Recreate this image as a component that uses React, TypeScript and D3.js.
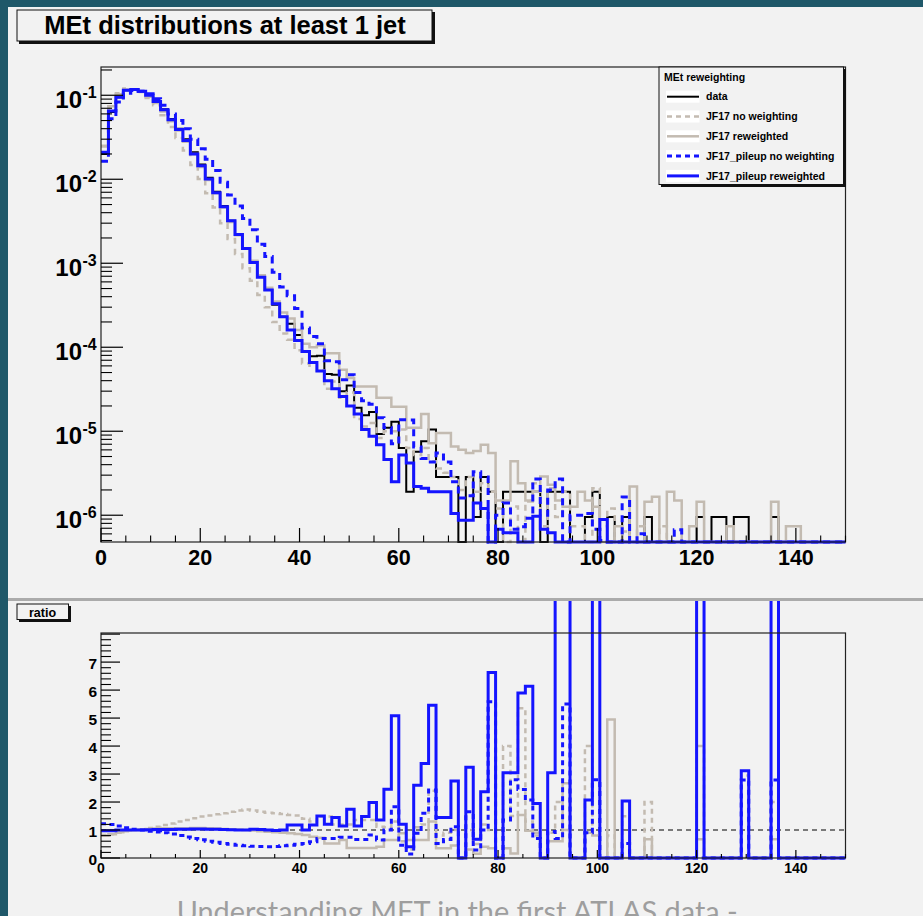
import React from 'react';
import * as d3 from 'd3';

// ---------------- data (100 bins of width 1.5 GeV, 0..150) ----------------
const binWidth = 1.5;
const xTickMajor = [0, 20, 40, 60, 80, 100, 120, 140];
const ratioTickLabels = [0, 1, 2, 3, 4, 5, 6, 7];
const logDecades = [-1, -2, -3, -4, -5, -6];

const legendTitle = 'MEt reweighting';
const legendNames = ['data', 'JF17 no weighting', 'JF17 reweighted', 'JF17_pileup no weighting', 'JF17_pileup reweighted'];

const dataVals = [
  2.0e-2, 6.3e-2, 9.5e-2, 1.15e-1, 1.17e-1, 1.12e-1, 1.0e-1, 8.5e-2, 6.8e-2, 5.2e-2,
  4.0e-2, 3.0e-2, 2.1e-2, 1.5e-2, 1.04e-2, 7.1e-3, 4.8e-3, 3.2e-3, 2.2e-3, 1.5e-3,
  1.05e-3, 6.9e-4, 4.8e-4, 3.2e-4, 2.3e-4, 1.9e-4, 1.4e-4, 8.9e-5, 7.8e-5, 7.9e-5,
  4.8e-5, 4.7e-5, 3.0e-5, 3.5e-5, 1.9e-5, 1.55e-5, 1.7e-5, 9.3e-6, 1.1e-5, 1.3e-5,
  6.3e-6, 1.9e-6, 5.7e-6, 7.6e-6, 1.05e-5, 2.85e-6, 2.85e-6, 2.85e-6, 0, 2.85e-6,
  9.5e-7, 2.85e-6, 1.9e-6, 0, 1.9e-6, 1.9e-6, 1.9e-6, 1.9e-6, 1.9e-6, 0,
  1.9e-6, 1.9e-6, 1.9e-6, 0, 0, 9.5e-7, 1.9e-6, 0, 9.5e-7, 0,
  9.5e-7, 0, 0, 9.5e-7, 0, 0, 0, 0, 0, 0,
  9.5e-7, 0, 9.5e-7, 9.5e-7, 0, 9.5e-7, 9.5e-7, 0, 0, 0,
  9.5e-7, 0, 0, 0, 0, 0, 0, 0, 0, 0,
];

const jf17Vals = [
  2.45e-2, 7.4e-2, 1.06e-1, 1.2e-1, 1.17e-1, 1.09e-1, 9.3e-2, 7.6e-2, 5.8e-2, 4.2e-2,
  3.1e-2, 2.2e-2, 1.48e-2, 1.01e-2, 6.8e-3, 4.6e-3, 3.0e-3, 1.94e-3, 1.29e-3, 8.7e-4,
  6.2e-4, 4.2e-4, 3.0e-4, 2.0e-4, 1.46e-4, 1.23e-4, 9.2e-5, 6.4e-5, 6.0e-5, 5.3e-5,
  3.2e-5, 3.9e-5, 2.5e-5, 2.9e-5, 1.4e-5, 1.14e-5, 1.25e-5, 8.3e-6, 1.0e-5, 1.0e-5,
  1.05e-5, 6.3e-6, 5.2e-6, 6.3e-6, 4.4e-6, 3.6e-6, 3.2e-6, 2.85e-6, 2.0e-6, 2.85e-6,
  1.9e-6, 2.4e-6, 1.9e-6, 1.2e-6, 4.8e-7, 1.27e-6, 3.6e-7, 1.46e-6, 2.4e-6, 7.4e-7,
  2.1e-6, 9.5e-7, 1.9e-6, 7.4e-7, 7.4e-7, 2.4e-7, 2.1e-6, 7.4e-7, 1.2e-6, 0,
  6.4e-7, 0, 7.4e-7, 4.8e-7, 0, 7.4e-7, 0, 0, 0, 0,
  2.4e-7, 0, 0, 0, 0, 0, 3.2e-7, 0, 0, 0,
  4.8e-7, 0, 0, 0, 0, 0, 0, 0, 0, 0,
];

const jf17RwVals = [
  2.5e-2, 7.4e-2, 1.03e-1, 1.17e-1, 1.17e-1, 1.10e-1, 9.6e-2, 8.1e-2, 6.4e-2, 4.9e-2,
  3.8e-2, 2.8e-2, 2.0e-2, 1.4e-2, 9.8e-3, 6.8e-3, 4.6e-3, 3.1e-3, 2.15e-3, 1.5e-3,
  1.07e-3, 7.2e-4, 5.1e-4, 3.5e-4, 2.6e-4, 2.2e-4, 1.6e-4, 1.1e-4, 1.0e-4, 1.05e-4,
  8.5e-5, 8.5e-5, 5.4e-5, 4.3e-5, 3.4e-5, 3.4e-5, 3.4e-5, 2.5e-5, 2.5e-5, 1.95e-5,
  1.95e-5, 1.1e-5, 1.1e-5, 1.6e-5, 7.2e-6, 9.5e-6, 9.5e-6, 6.6e-6, 6.0e-6, 5.5e-6,
  5.8e-6, 6.9e-6, 5.5e-6, 1.5e-6, 1.5e-6, 4.4e-6, 2.4e-6, 1.5e-6, 1.9e-6, 2.9e-6,
  2.3e-6, 1.5e-6, 1.26e-6, 1.26e-6, 1.9e-6, 1.5e-6, 1.26e-6, 0, 1.9e-7, 7.4e-7,
  0, 2.2e-6, 0, 1.45e-6, 1.66e-6, 0, 1.9e-6, 1.5e-6, 0, 7.4e-7,
  1.45e-6, 0, 0, 0, 7.4e-7, 0, 0, 0, 0, 0,
  1.45e-6, 0, 7.4e-7, 7.4e-7, 0, 0, 0, 0, 0, 0,
];

const pileupVals = [
  1.64e-2, 5.25e-2, 8.3e-2, 1.06e-1, 1.14e-1, 1.12e-1, 1.04e-1, 9.1e-2, 7.6e-2, 6.0e-2,
  5.0e-2, 4.0e-2, 3.0e-2, 2.3e-2, 1.73e-2, 1.27e-2, 9.2e-3, 6.5e-3, 4.8e-3, 3.4e-3,
  2.5e-3, 1.68e-3, 1.2e-3, 7.8e-4, 5.2e-4, 4.1e-4, 2.9e-4, 1.7e-4, 1.34e-4, 1.1e-4,
  6.9e-5, 6.7e-5, 4.1e-5, 4.7e-5, 2.9e-5, 2.3e-5, 2.1e-5, 1.45e-5, 1.1e-5, 7.1e-6,
  1.37e-5, 1.36e-5, 6.5e-6, 4.75e-6, 4.3e-6, 5.5e-6, 4.3e-6, 2.5e-6, 1.6e-6, 1.7e-6,
  3.3e-6, 2.85e-6, 3.4e-7, 1.0e-6, 1.4e-6, 6.8e-7, 7.3e-7, 9.2e-7, 2.7e-6, 1.0e-6,
  2.0e-6, 2.7e-6, 3.5e-7, 1.0e-6, 1.0e-6, 1.05e-6, 6.8e-7, 5.0e-7, 0, 0,
  1.65e-6, 4.0e-7, 6.0e-7, 0, 3.0e-7, 0, 0, 6.7e-7, 0, 0,
  0, 0, 0, 0, 0, 0, 3.4e-7, 0, 0, 0,
  3.4e-7, 0, 0, 0, 0, 0, 0, 0, 0, 0,
];

const pileupRwVals = [
  2.1e-2, 6.5e-2, 9.5e-2, 1.15e-1, 1.17e-1, 1.12e-1, 1.0e-1, 8.4e-2, 6.7e-2, 5.1e-2,
  3.9e-2, 2.9e-2, 2.0e-2, 1.45e-2, 1.01e-2, 6.9e-3, 4.7e-3, 3.2e-3, 2.2e-3, 1.5e-3,
  1.02e-3, 6.8e-4, 4.8e-4, 3.3e-4, 2.3e-4, 1.6e-4, 1.2e-4, 8.9e-5, 6.6e-5, 5.2e-5,
  4.0e-5, 3.2e-5, 2.6e-5, 2.0e-5, 1.6e-5, 1.05e-5, 8.7e-6, 6.9e-6, 4.6e-6, 2.5e-6,
  5.2e-6, 4.2e-6, 2.2e-6, 2.1e-6, 1.9e-6, 1.9e-6, 1.9e-6, 1.05e-6, 8.7e-7, 8.7e-7,
  1.4e-6, 1.2e-6, 2.9e-7, 6.8e-7, 6.2e-7, 6.2e-7, 3.2e-7, 3.1e-7, 9.7e-7, 6.8e-7,
  6.2e-7, 1.5e-7, 1.5e-7, 0, 0, 4.6e-7, 1.5e-7, 8.9e-7, 0, 0,
  4.7e-7, 0, 0, 0, 0, 0, 0, 0, 0, 0,
  1.0e-7, 0, 0, 0, 0, 0, 3.0e-7, 0, 0, 0,
  1.0e-7, 0, 0, 0, 0, 0, 0, 0, 0, 0,
];

// ratio panel (data / MC), read from the lower pad
const ratioJf17 = [
  0.82, 0.85, 0.90, 0.96, 1.0, 1.03, 1.07, 1.12, 1.18, 1.23,
  1.30, 1.36, 1.42, 1.48, 1.52, 1.56, 1.60, 1.65, 1.70, 1.73,
  1.70, 1.65, 1.62, 1.60, 1.57, 1.54, 1.52, 1.40, 1.30, 1.48,
  1.48, 1.2, 1.2, 1.2, 1.36, 1.36, 1.36, 1.12, 1.1, 1.3,
  0.6, 0.3, 1.1, 1.2, 2.4, 0.8, 0.9, 1.0, 0, 1.0,
  0.5, 1.2, 1.0, 0, 4.0, 1.5, 5.35, 1.3, 0.8, 0,
  0.9, 2.0, 1.0, 0, 0, 4.0, 0.9, 0, 0.8, 0,
  1.49, 0, 0, 2.0, 0, 0, 0, 0, 0, 0,
  4.0, 0, 0, 0, 0, 0, 2.95, 0, 0, 0,
  2.0, 0, 0, 0, 0, 0, 0, 0, 0, 0,
];

const ratioJf17Rw = [
  0.80, 0.85, 0.92, 0.98, 1.0, 1.02, 1.04, 1.05, 1.06, 1.06,
  1.06, 1.06, 1.07, 1.07, 1.06, 1.05, 1.04, 1.03, 1.02, 1.0,
  0.98, 0.96, 0.94, 0.92, 0.90, 0.88, 0.86, 0.82, 0.76, 0.72,
  0.52, 0.52, 0.64, 0.36, 0.36, 0.36, 0.36, 0.40, 0.64, 0.64,
  0.88, 0.64, 0.64, 0.64, 1.3, 0.35, 0.35, 0.45, 0, 0.3,
  0.15, 0.4, 0.35, 0, 0.35, 0.16, 1.54, 0.97, 0.9, 0,
  0.6, 0.6, 2.67, 0, 0, 0.9, 0.8, 0, 4.95, 0,
  0, 0, 0, 0.67, 0, 0, 0, 0, 0, 0,
  0.67, 0, 0, 0, 0, 0, 0, 0, 0, 0,
  0.67, 0, 0, 0, 0, 0, 0, 0, 0, 0,
];

const ratioPileup = [
  1.22, 1.2, 1.14, 1.08, 1.03, 1.0, 0.96, 0.93, 0.9, 0.86,
  0.8, 0.75, 0.7, 0.65, 0.6, 0.56, 0.52, 0.49, 0.46, 0.44,
  0.42, 0.41, 0.40, 0.41, 0.44, 0.46, 0.49, 0.52, 0.58, 0.70,
  0.70, 0.70, 0.74, 0.74, 0.66, 0.66, 0.82, 0.64, 1.0, 1.83,
  0.46, 0.14, 0.88, 1.6, 2.43, 0.52, 0.66, 1.12, 0, 1.65,
  0.29, 1.0, 5.58, 0, 1.36, 2.8, 2.45, 2.07, 0.7, 0,
  0.95, 0.7, 5.5, 0, 0, 0.9, 2.8, 0, 0, 0,
  0.52, 0, 0, 0, 0, 0, 0, 0, 0, 0,
  0, 0, 0, 0, 0, 0, 2.79, 0, 0, 0,
  2.79, 0, 0, 0, 0, 0, 0, 0, 0, 0,
];

const ratioPileupRw = [
  0.97, 0.97, 1.0, 1.0, 1.0, 1.0, 1.01, 1.02, 1.02, 1.02,
  1.03, 1.03, 1.04, 1.04, 1.03, 1.03, 1.02, 1.01, 1.0, 1.0,
  1.03, 1.02, 1.0, 0.98, 1.0, 1.18, 1.18, 1.0, 1.18, 1.5,
  1.21, 1.45, 1.14, 1.74, 1.14, 1.48, 1.98, 1.36, 2.46, 5.08,
  1.21, 0.40, 2.6, 3.38, 5.46, 1.45, 1.45, 2.75, 0, 3.24,
  0.67, 2.37, 6.63, 0, 3.05, 3.05, 5.9, 6.14, 1.95, 0,
  3.05, 12, 12, 0, 0, 2.07, 12, 0, 0, 0,
  2.04, 0, 0, 0, 0, 0, 0, 0, 0, 0,
  12, 0, 0, 0, 0, 0, 3.12, 0, 0, 0,
  12, 0, 0, 0, 0, 0, 0, 0, 0, 0,
];

// ---------------- styling ----------------
const BLUE = '#1414ff';
const GRAY = '#c3bbb1';
const BG = '#f2f2f2';
const TEAL = '#1f5869';
const FONT = '"Liberation Sans", Arial, Helvetica, sans-serif';

const styles = [
  { color: '#000000', width: 2, dash: undefined as string | undefined },
  { color: GRAY, width: 2.5, dash: '6 5' },
  { color: GRAY, width: 2.5, dash: undefined },
  { color: BLUE, width: 3, dash: '7 5' },
  { color: BLUE, width: 3, dash: undefined },
];

function stepPath(vals: number[], x: (v: number) => number, y: (v: number) => number) {
  let d = '';
  vals.forEach((v, i) => {
    const x0 = x(i * binWidth);
    const x1 = x((i + 1) * binWidth);
    const yy = y(v);
    d += i === 0 ? `M${x0},${yy}` : `V${yy}`;
    d += `H${x1}`;
  });
  return d;
}

export default function App() {
  const W = 923, H = 916;
  const x = d3.scaleLinear().domain([0, 150]).range([101, 845.5]);
  const yMin = 4.8e-7, yMax = 0.217;
  const yT = d3.scaleLog().domain([yMin, yMax]).range([542, 67]);
  const yTv = (v: number) => (v > yMin ? yT(v) : 542);
  const yR = d3.scaleLinear().domain([0, 8.04]).range([858, 633]);

  const topSeries = [dataVals, jf17Vals, jf17RwVals, pileupVals, pileupRwVals];
  const ratioSeries = [ratioJf17, ratioJf17Rw, ratioPileup, ratioPileupRw];

  // log minor ticks
  const minorLog: number[] = [];
  for (let e = -7; e <= -1; e++) {
    for (let k = 2; k <= 9; k++) {
      const v = k * Math.pow(10, e);
      if (v > yMin && v < yMax) minorLog.push(v);
    }
  }
  const xMinor = d3.range(0, 151, 5).filter((v) => v % 20 !== 0);
  const ratioMinor = d3.range(0, 8.01, 0.2).filter((v) => Math.abs(v - Math.round(v)) > 0.01);
  const ratioMajor = d3.range(0, 9, 1).filter((v) => yR(v) >= 632.5);

  return (
    <svg width={W} height={H} style={{ position: 'absolute', left: 0, top: 0, display: 'block' }}
      fontFamily={FONT}>
      <defs>
        <clipPath id="ratioClip">
          <rect x={95} y={601} width={760} height={300} />
        </clipPath>
      </defs>
      <rect x={0} y={0} width={W} height={H} fill={TEAL} />
      <rect x={8} y={7} width={W - 8} height={H - 7} fill={BG} />
      <rect x={8} y={598} width={W - 8} height={3} fill="#ababab" />

      {/* title box */}
      <rect x={19} y={12} width={416} height={32} fill="#111" />
      <rect x={17} y={10} width={415} height={31} fill={BG} stroke="#111" strokeWidth={1} />
      <text x={225} y={33.5} textAnchor="middle" fontSize={25.5} fontWeight="bold" fill="#000">
        MEt distributions at least 1 jet
      </text>

      {/* ---------- top panel ---------- */}
      {topSeries.map((vals, i) => (
        <path key={'t' + i} d={stepPath(vals, x, yTv)} fill="none" stroke={styles[i].color}
          strokeWidth={styles[i].width} strokeDasharray={styles[i].dash} />
      ))}
      <rect x={101} y={67} width={744.5} height={475} fill="none" stroke="#222" strokeWidth={1.2} />
      {/* y ticks */}
      {logDecades.map((e) => (
        <line key={'ym' + e} x1={101} x2={123} y1={yT(Math.pow(10, e))} y2={yT(Math.pow(10, e))} stroke="#000" strokeWidth={1.2} />
      ))}
      {minorLog.map((v, i) => (
        <line key={'yn' + i} x1={101} x2={112} y1={yT(v)} y2={yT(v)} stroke="#000" strokeWidth={1.1} />
      ))}
      {logDecades.map((e) => {
        const yy = yT(Math.pow(10, e));
        return (
          <g key={'yl' + e} fontWeight="bold" fill="#000">
            <text x={82} y={yy + 12.5} fontSize={24} textAnchor="end">10</text>
            <text x={82.5} y={yy + 3} fontSize={16}>{'-' + Math.abs(e)}</text>
          </g>
        );
      })}
      {/* x ticks */}
      {xTickMajor.map((v) => (
        <line key={'xm' + v} x1={x(v)} x2={x(v)} y1={542} y2={528} stroke="#000" strokeWidth={1.2} />
      ))}
      {xMinor.map((v) => (
        <line key={'xn' + v} x1={x(v)} x2={x(v)} y1={542} y2={535.5} stroke="#000" strokeWidth={1.1} />
      ))}
      {xTickMajor.map((v) => (
        <text key={'xl' + v} x={x(v)} y={565} fontSize={21.5} fontWeight="bold" textAnchor="middle" fill="#000">{v}</text>
      ))}

      {/* legend */}
      <rect x={661} y={69} width={185} height={118} fill="#111" />
      <rect x={659} y={67} width={184.5} height={117.5} fill={BG} stroke="#111" strokeWidth={1} />
      <text x={664} y={80.5} fontSize={10.5} fontWeight="bold" fill="#000">{legendTitle}</text>
      {legendNames.map((name, i) => {
        const cy = 96.7 + i * 19.8;
        const s = styles[i];
        return (
          <g key={'lg' + i}>
            <rect x={666} y={cy - 6} width={33.5} height={12} fill="#ffffff" />
            <line x1={667} x2={699} y1={cy} y2={cy} stroke={s.color} strokeWidth={s.width}
              strokeDasharray={s.dash ? '5 4' : undefined} />
            <text x={706} y={cy + 3.6} fontSize={10.5} fontWeight="bold" fill="#000">{name}</text>
          </g>
        );
      })}

      {/* ---------- ratio panel ---------- */}
      <rect x={19} y={606} width={52} height={16} fill="#111" />
      <rect x={17} y={604} width={51.5} height={15.5} fill={BG} stroke="#111" strokeWidth={1} />
      <text x={42.5} y={617} fontSize={12.5} fontWeight="bold" textAnchor="middle" fill="#000">ratio</text>

      <line x1={x(0)} x2={x(150)} y1={yR(1)} y2={yR(1)} stroke="#000" strokeWidth={1.2} strokeDasharray="5 4" />
      <g clipPath="url(#ratioClip)">
        {ratioSeries.map((vals, i) => (
          <path key={'r' + i} d={stepPath(vals, x, (v) => yR(v))} fill="none" stroke={styles[i + 1].color}
            strokeWidth={styles[i + 1].width} strokeDasharray={styles[i + 1].dash ? '5 4' : undefined} />
        ))}
      </g>
      <rect x={101} y={633} width={744.5} height={225} fill="none" stroke="#222" strokeWidth={1.2} />
      {ratioMajor.map((v) => (
        <line key={'rm' + v} x1={101} x2={120} y1={yR(v)} y2={yR(v)} stroke="#000" strokeWidth={1.2} />
      ))}
      {ratioMinor.map((v, i) => (
        <line key={'rn' + i} x1={101} x2={111} y1={yR(v)} y2={yR(v)} stroke="#000" strokeWidth={1.1} />
      ))}
      {ratioTickLabels.map((v) => (
        <text key={'rl' + v} x={97} y={yR(v) + 6.5} fontSize={15.5} fontWeight="bold" textAnchor="end" fill="#000">{v}</text>
      ))}
      {xTickMajor.map((v) => (
        <line key={'rxm' + v} x1={x(v)} x2={x(v)} y1={858} y2={850} stroke="#000" strokeWidth={1.2} />
      ))}
      {xMinor.map((v) => (
        <line key={'rxn' + v} x1={x(v)} x2={x(v)} y1={858} y2={854} stroke="#000" strokeWidth={1.1} />
      ))}
      {xTickMajor.map((v) => (
        <text key={'rxl' + v} x={x(v)} y={873} fontSize={14} fontWeight="bold" textAnchor="middle" fill="#000">{v}</text>
      ))}

      {/* slide caption (cut off at the bottom) */}
      <text x={176.7} y={921.5} fontSize={28} fontFamily='Lato, "Open Sans", sans-serif' fill="#9e9e9e"
        textLength={561} lengthAdjust="spacingAndGlyphs">
        Understanding MET in the first ATLAS data -
      </text>
    </svg>
  );
}
